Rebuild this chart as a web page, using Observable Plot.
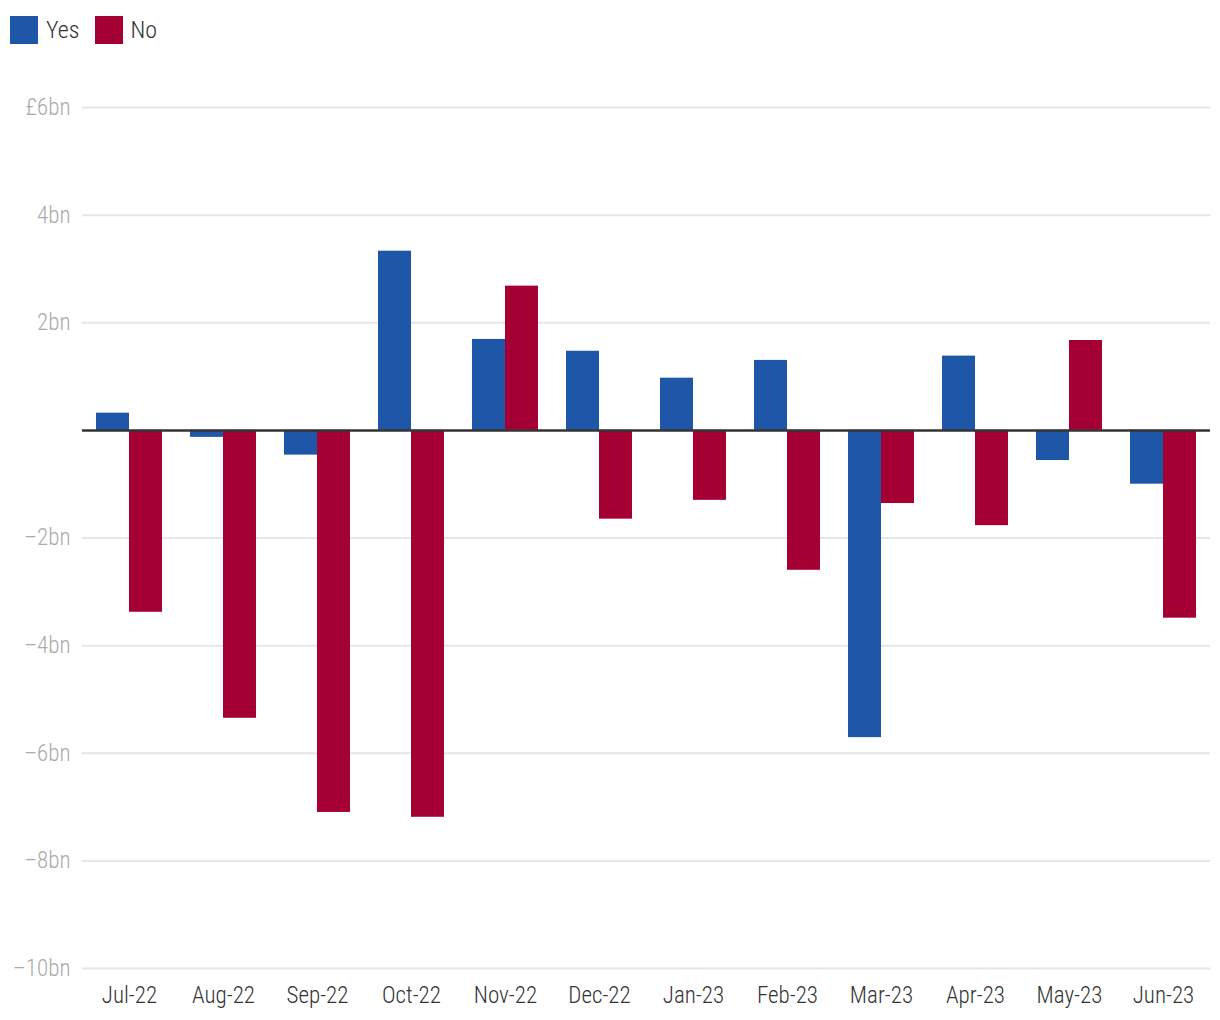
<!DOCTYPE html>
<html>
<head>
<meta charset="utf-8">
<script src="https://cdn.jsdelivr.net/npm/d3@7"></script>
<script src="https://cdn.jsdelivr.net/npm/@observablehq/plot@0.6"></script>
<style>
  html, body { margin: 0; padding: 0; background: #fff; }
  body { width: 1220px; height: 1020px; overflow: hidden; font-family: "Roboto Condensed", "Liberation Sans Narrow", "DejaVu Sans Condensed", Roboto, sans-serif; font-stretch: condensed; font-weight: 300; }
  #legend { height: 62px; display: flex; align-items: flex-start; padding-top: 16px; padding-left: 10px; box-sizing: border-box; }
  .item { display: flex; align-items: center; margin-right: 15px; font-size: 24px; color: #333; }
  .sw { width: 28px; height: 28px; margin-right: 8px; }
  svg text { font-weight: 300; }
</style>
</head>
<body>
<div id="legend"></div>
<div id="chart"></div>
<script>
const months = ["Jul-22","Aug-22","Sep-22","Oct-22","Nov-22","Dec-22","Jan-23","Feb-23","Mar-23","Apr-23","May-23","Jun-23"];
const yesValues = [0.32, -0.13, -0.46, 3.33, 1.69, 1.47, 0.97, 1.30, -5.71, 1.38, -0.56, -1.00];
const noValues = [-3.38, -5.35, -7.10, -7.19, 2.68, -1.65, -1.30, -2.60, -1.36, -1.77, 1.67, -3.49];
const seriesNames = ["Yes", "No"];
const seriesColors = ["#1f57a8", "#a50034"];
const yTicks = [6, 4, 2, -2, -4, -6, -8, -10];

const yesData = months.map((m, i) => ({month: m, value: yesValues[i]}));
const noData = months.map((m, i) => ({month: m, value: noValues[i]}));

const legend = document.getElementById("legend");
seriesNames.forEach((s, i) => {
  const it = document.createElement("div");
  it.className = "item";
  it.innerHTML = `<div class="sw" style="background:${seriesColors[i]}"></div><span>${s}</span>`;
  legend.appendChild(it);
});

const fmt = d => {
  if (d === 0) return "";
  const s = (d < 0 ? "\u2013" : "") + Math.abs(d) + "bn";
  return d === 6 ? "£" + s : s;
};

const chart = Plot.plot({
  width: 1220,
  height: 958,
  marginLeft: 82,
  marginRight: 10,
  marginTop: 45,
  marginBottom: 52,
  style: { fontFamily: "'Roboto Condensed', 'Liberation Sans Narrow', 'DejaVu Sans Condensed', Roboto, sans-serif", background: "#fff" },
  x: { domain: months, padding: 0, label: null },
  y: { domain: [-10, 6], label: null },
  marks: [
    Plot.ruleY(yTicks, { stroke: "#e6e6e6", strokeWidth: 2 }),
    Plot.axisY({ ticks: yTicks, tickFormat: fmt, tickSize: 0, tickPadding: 12, fontSize: 23, fill: "#aaa", label: null }),
    Plot.axisX({ tickSize: 0, tickPadding: 18, fontSize: 23, fill: "#333", label: null }),
    Plot.barY(yesData, { x: "month", y: "value", fill: seriesColors[0], insetLeft: 14, insetRight: 47 }),
    Plot.barY(noData, { x: "month", y: "value", fill: seriesColors[1], insetLeft: 47, insetRight: 14 }),
    Plot.ruleY([0], { stroke: "#333", strokeWidth: 2.5 })
  ]
});
document.getElementById("chart").appendChild(chart);
</script>
</body>
</html>
